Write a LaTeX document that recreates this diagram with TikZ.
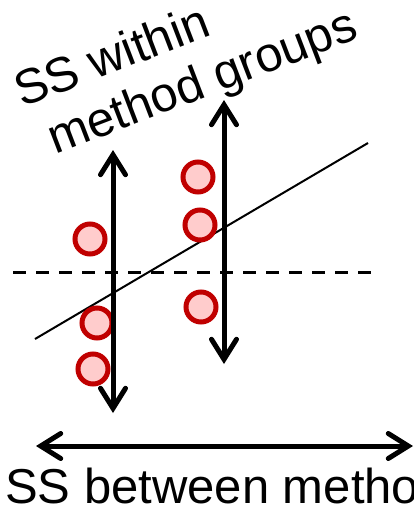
\documentclass[tikz,border=0pt]{standalone}
\usepackage{fontspec}
\setmainfont{Liberation Sans}
\usetikzlibrary{arrows.meta,shadows}
\definecolor{ringred}{RGB}{192,0,0}
\definecolor{dotpink}{RGB}{255,204,204}
\tikzset{
  datapt/.style={circle,draw=ringred,fill=dotpink,line width=5pt,minimum size=30pt,inner sep=0pt,
    drop shadow={opacity=0.25,shadow xshift=1.5pt,shadow yshift=-1.5pt}},
  ssarrow/.style={line width=5pt,{Straight Barb[length=20pt,width=25pt,line cap=round]}-{Straight Barb[length=20pt,width=25pt,line cap=round]}},
  label/.style={font=\fontsize{49}{55}\selectfont,inner sep=0pt},
}
\begin{document}
\begin{tikzpicture}[x=1pt,y=-1pt]
\useasboundingbox (0,0) rectangle (414,512);
% reference lines
\coordinate (d1) at (13,272);
\coordinate (d2) at (377,272);
\draw[line width=3pt,dash pattern=on 13pt off 10pt] (d1) -- (d2);
\coordinate (r1) at (35,339);
\coordinate (r2) at (368,143);
\draw[line width=2pt] (r1) -- (r2);
% data points
\node[datapt] (p1) at (90,239) {};
\node[datapt] (p2) at (97,323) {};
\node[datapt] (p3) at (93,369) {};
\node[datapt] (p4) at (198,177) {};
\node[datapt] (p5) at (200,225) {};
\node[datapt] (p6) at (201,307) {};
% arrows
\coordinate (a1t) at (113,150);
\coordinate (a1b) at (113,413);
\coordinate (a2t) at (224,100);
\coordinate (a2b) at (224,364);
\coordinate (bl) at (36,446);
\coordinate (br) at (413,446);
\draw[ssarrow] (a1t) -- (a1b);
\draw[ssarrow] (a2t) -- (a2b);
\draw[ssarrow] (bl) -- (br);
% labels
\node[label,anchor=base west,rotate=21] (w1) at (22,108) {SS within};
\node[label,anchor=base west,rotate=21] (w2) at (55,155) {method groups};
\node[label,anchor=base west] (b1) at (5,503) {SS between methods};
\end{tikzpicture}
\end{document}
